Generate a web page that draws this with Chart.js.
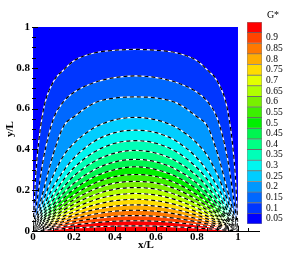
<!DOCTYPE html>
<html>
<head>
<meta charset="utf-8">
<script src="https://cdn.jsdelivr.net/npm/chart.js@4.4.0/dist/chart.umd.min.js"></script>
<style>
  html,body{margin:0;padding:0;background:#fff;}
  #wrap{position:relative;width:291px;height:254px;overflow:hidden;}
  #field{position:absolute;left:0;top:0;}
  #legend{position:absolute;left:240px;top:0;}
</style>
</head>
<body>
<div id="wrap">
  <canvas id="field" width="291" height="254"></canvas>
  <canvas id="legend" width="51" height="254"></canvas>
</div>
<script>
// contour levels of G* and half-profiles y/L read at these x/L stations (mirrored about x/L = 0.5)
const levels = [0.05,0.1,0.15,0.2,0.25,0.3,0.35,0.4,0.45,0.5,0.55,0.6,0.65,0.7,0.75,0.8,0.85,0.9,0.95];
const xHalf  = [0, 0.01, 0.02, 0.05, 0.1, 0.15, 0.2, 0.3, 0.4, 0.5];

const g05 = [0, 0.22, 0.36, 0.59, 0.733, 0.79, 0.835, 0.873, 0.886, 0.89];
const g10 = [0, 0.08, 0.15, 0.35, 0.55, 0.635, 0.68, 0.728, 0.752, 0.76];
const g15 = [0, 0.042, 0.083, 0.195, 0.38, 0.515, 0.56, 0.628, 0.652, 0.657];
const g20 = [0, 0.03, 0.061, 0.148, 0.275, 0.37, 0.43, 0.507, 0.545, 0.557];
const g25 = [0, 0.024, 0.048, 0.117, 0.218, 0.296, 0.358, 0.44, 0.482, 0.494];
const g30 = [0, 0.0195, 0.039, 0.096, 0.182, 0.253, 0.31, 0.388, 0.43, 0.443];
const g35 = [0, 0.0163, 0.0325, 0.08, 0.154, 0.217, 0.27, 0.342, 0.382, 0.395];
const g40 = [0, 0.0138, 0.0275, 0.068, 0.131, 0.187, 0.234, 0.301, 0.339, 0.351];
const g45 = [0, 0.0117, 0.0234, 0.058, 0.113, 0.162, 0.204, 0.266, 0.301, 0.315];
const g50 = [0, 0.01, 0.02, 0.0495, 0.097, 0.14, 0.177, 0.234, 0.267, 0.277];
const g55 = [0, 0.0085, 0.017, 0.0424, 0.083, 0.1205, 0.1535, 0.205, 0.235, 0.243];
const g60 = [0, 0.0073, 0.0145, 0.036, 0.071, 0.1032, 0.132, 0.177, 0.205, 0.213];
const g65 = [0, 0.0062, 0.0123, 0.0305, 0.06, 0.0874, 0.112, 0.152, 0.176, 0.184];
const g70 = [0, 0.0051, 0.0102, 0.0253, 0.05, 0.073, 0.094, 0.128, 0.1486, 0.1556];
const g75 = [0, 0.0042, 0.0083, 0.0206, 0.0406, 0.0595, 0.077, 0.105, 0.122, 0.128];
const g80 = [0, 0.0033, 0.0065, 0.0162, 0.032, 0.0468, 0.0604, 0.0827, 0.097, 0.1017];
const g85 = [0, 0.0024, 0.0048, 0.012, 0.0236, 0.0346, 0.0448, 0.0614, 0.0721, 0.0757];
const g90 = [0, 0.0016, 0.0032, 0.0079, 0.0156, 0.0229, 0.0296, 0.0407, 0.0478, 0.0502];
const g95 = [0, 0.0008, 0.0016, 0.0039, 0.0077, 0.0114, 0.0147, 0.0203, 0.0238, 0.025];
const profiles = [g05,g10,g15,g20,g25,g30,g35,g40,g45,g50,g55,g60,g65,g70,g75,g80,g85,g90,g95];

// legend bands (centre values) and their colours, bottom to top
const bandValues = [0.05,0.1,0.15,0.2,0.25,0.3,0.35,0.4,0.45,0.5,0.55,0.6,0.65,0.7,0.75,0.8,0.85,0.9,0.95];
const bandColors = ['#0000ff','#0036ff','#0068ff','#0098ff','#00cdff','#00f5f0','#00ffb8','#00ff84','#00f550','#00f000',
                    '#3cf000','#78f000','#b0ff00','#e2ff00','#ffdc00','#ffac00','#ff7800','#ff4400','#ff0000'];
const legendTicks = [0.05,0.1,0.15,0.2,0.25,0.3,0.35,0.4,0.45,0.5,0.55,0.6,0.65,0.7,0.75,0.8,0.85,0.9];

const serif = "'Liberation Serif','Times New Roman',serif";

(function(){
  function arch(ys){
    const pts = xHalf.map((x,i)=>({x:x, y:ys[i]}));
    for(let i = xHalf.length-2; i >= 0; i--) pts.push({x: +(1-xHalf[i]).toFixed(4), y: ys[i]});
    return pts;
  }
  function isStep(v, n){ return Math.abs(v*n - Math.round(v*n)) < 1e-6; }

  const datasets = [];
  // region below the lowest level
  datasets.push({ data:[{x:0,y:1},{x:1,y:1}], fill:'origin', backgroundColor:bandColors[0],
                  borderWidth:0, pointRadius:0, order:100 });
  levels.forEach((lv,k)=>{
    const pts = arch(profiles[k]);
    // filled band + white line, then its black dashes straight on top
    datasets.push({ label:'G* '+lv, data:pts, fill:'origin', backgroundColor:bandColors[Math.min(k+1, bandColors.length-1)],
                    borderColor:'#ffffff', borderWidth:1.2, pointRadius:0, cubicInterpolationMode:'monotone', order:60-k });
    datasets.push({ data:pts, fill:false, borderColor:'#000000', borderWidth:1.2, borderDash:[4,3],
                    borderDashOffset:(k*2.3)%7, pointRadius:0, cubicInterpolationMode:'monotone', order:59.5-k });
  });

  const tickMarks = {
    id:'tickMarks',
    afterDraw(chart){
      const {ctx, chartArea:a, scales:{x, y}} = chart;
      ctx.save();
      ctx.strokeStyle = '#000'; ctx.lineWidth = 1;
      x.ticks.forEach(t=>{
        if(!isStep(t.value,20)) return;
        const px = Math.round(x.getPixelForValue(t.value)) + 0.5;
        const len = isStep(t.value,5) ? 5 : 3;
        ctx.beginPath(); ctx.moveTo(px, a.bottom+1); ctx.lineTo(px, a.bottom-len); ctx.stroke();
      });
      y.ticks.forEach(t=>{
        if(!isStep(t.value,20)) return;
        const py = Math.round(y.getPixelForValue(t.value)) + 0.5;
        const len = isStep(t.value,5) ? 5 : 3;
        ctx.beginPath(); ctx.moveTo(a.left-1, py); ctx.lineTo(a.left+len, py); ctx.stroke();
      });
      ctx.restore();
    }
  };

  function majorLabel(v){
    if(!isStep(v,5) || v > 1.0001) return '';
    return String(+v.toFixed(1));
  }

  new Chart(document.getElementById('field'), {
    type:'line',
    data:{ datasets },
    options:{
      responsive:false, animation:false, devicePixelRatio:1,
      layout:{ padding:{ top:27, right:32, left:0, bottom:0 } },
      plugins:{ legend:{display:false}, tooltip:{enabled:false} },
      scales:{
        x:{ type:'linear', min:0, max:1.1025,
            afterFit(s){ s.height = 23; },
            border:{ display:true, color:'#000', width:1 },
            grid:{ display:false, drawTicks:false },
            ticks:{ stepSize:0.05, autoSkip:false, maxRotation:0, padding:0, color:'#000',
                    font:{ family:serif, size:11, weight:'bold' }, callback:majorLabel },
            title:{ display:true, text:'x/L', color:'#000', padding:{top:0,bottom:2},
                    font:{ family:serif, size:11, weight:'bold' } } },
        y:{ type:'linear', min:0, max:1,
            afterFit(s){ s.width = 33; },
            border:{ display:true, color:'#000', width:1 },
            grid:{ display:false, drawTicks:false },
            ticks:{ stepSize:0.05, autoSkip:false, padding:3, color:'#000',
                    font:{ family:serif, size:11, weight:'bold' }, callback:majorLabel },
            title:{ display:true, text:'y/L', color:'#000', padding:{top:4,bottom:0},
                    font:{ family:serif, size:11, weight:'bold' } } }
      }
    },
    plugins:[tickMarks]
  });

  // colour legend
  const legendTitle = {
    id:'legendTitle',
    afterDraw(chart){
      const ctx = chart.ctx;
      ctx.save();
      ctx.fillStyle = '#000'; ctx.font = '10px ' + serif;
      ctx.textAlign = 'center'; ctx.textBaseline = 'middle';
      ctx.fillText('G*', 33, 15);
      ctx.restore();
    }
  };
  const half = 0.025;
  new Chart(document.getElementById('legend'), {
    type:'bar',
    data:{
      labels:['G*'],
      datasets: bandValues.map((v,i)=>({
        data:[[v-half, v+half]], backgroundColor:bandColors[i],
        borderColor:'rgba(40,40,40,0.55)', borderWidth:0.8, borderSkipped:false,
        grouped:false, barPercentage:1, categoryPercentage:1
      }))
    },
    options:{
      responsive:false, animation:false, devicePixelRatio:1,
      layout:{ padding:{ top:22, bottom:30, left:7, right:0 } },
      plugins:{ legend:{display:false}, tooltip:{enabled:false} },
      scales:{
        x:{ display:false },
        y:{ position:'right', min:0.025, max:0.975,
            afterFit(s){ s.width = 29; },
            afterBuildTicks(s){ s.ticks = legendTicks.map(v=>({value:v})); },
            grid:{ display:false, drawTicks:false }, border:{ display:false },
            ticks:{ padding:4, autoSkip:false, color:'#000', font:{ family:serif, size:9.5 },
                    callback:(v)=>String(+v.toFixed(2)) } }
      }
    },
    plugins:[legendTitle]
  });
})();
</script>
</body>
</html>
